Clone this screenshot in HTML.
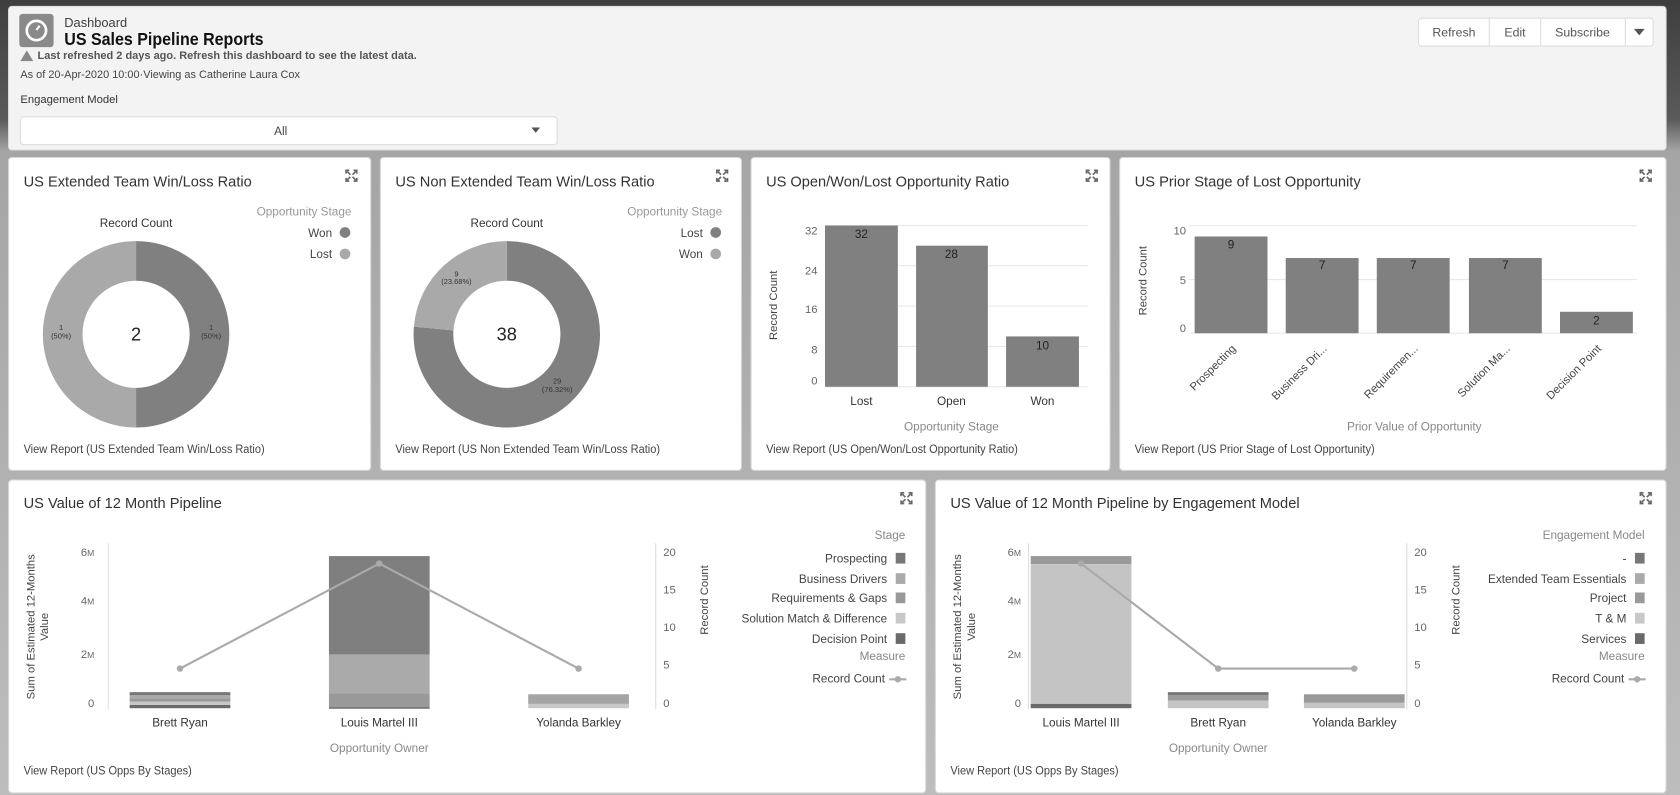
<!DOCTYPE html>
<html><head><meta charset="utf-8"><style>
html,body{margin:0;padding:0;width:1680px;height:795px;overflow:hidden;background:#b4b4b4}
svg{display:block}
text{font-family:"Liberation Sans",sans-serif}
</style></head><body>
<svg width="1680" height="795" viewBox="0 0 1568 742" preserveAspectRatio="none" xmlns="http://www.w3.org/2000/svg">
<defs>
<linearGradient id="bg" x1="0" y1="0" x2="0" y2="1">
<stop offset="0" stop-color="#3e3e3e"/><stop offset="0.15" stop-color="#5a5a5a"/><stop offset="0.19" stop-color="#a5a5a5"/><stop offset="1" stop-color="#bdbdbd"/>
</linearGradient>
<g id="exp" fill="none" stroke="#666" stroke-width="1.5"><path d="M0 3V0H3M7 0H10V3M10 7V10H7M3 10H0V7M1 1L4 4M9 1L6 4M9 9L6 6M1 9L4 6"/></g>
</defs>
<rect width="1568" height="742" fill="url(#bg)"/>
<!-- header -->
<rect x="8" y="6" width="1547" height="134" rx="3" fill="#f3f3f3" stroke="#ddd"/>
<rect x="18" y="13" width="32" height="31" rx="3" fill="#8a8a8a"/>
<circle cx="34" cy="28.5" r="9" fill="none" stroke="#fff" stroke-width="2.5"/>
<path d="M34 28 L37 24" stroke="#fff" stroke-width="2"/>
<text x="60" y="25" font-size="12" fill="#3e3e3e">Dashboard</text>
<text x="60" y="42" font-size="16" fill="#111" font-weight="bold" textLength="186" lengthAdjust="spacingAndGlyphs">US Sales Pipeline Reports</text>
<path d="M19 57 L25 47 L31 57Z" fill="#888"/>
<text x="35" y="55" font-size="10.5" fill="#555" font-weight="bold" textLength="354" lengthAdjust="spacingAndGlyphs">Last refreshed 2 days ago. Refresh this dashboard to see the latest data.</text>
<text x="19" y="73" font-size="10.5" fill="#444" textLength="261" lengthAdjust="spacingAndGlyphs">As of 20-Apr-2020 10:00·Viewing as Catherine Laura Cox</text>
<text x="19" y="96" font-size="10.5" fill="#333">Engagement Model</text>
<rect x="19" y="109" width="501" height="26" rx="3" fill="#fff" stroke="#ddd"/>
<text x="262" y="126" font-size="11" fill="#444" text-anchor="middle">All</text>
<path d="M496 119h8l-4 5z" fill="#555"/>
<rect x="1324" y="17" width="219" height="26" rx="3" fill="#fff" stroke="#ddd"/>
<path d="M1390 17v26M1438 17v26M1517 17v26" stroke="#ddd"/>
<text x="1357" y="34" font-size="11.5" fill="#555" text-anchor="middle">Refresh</text>
<text x="1414" y="34" font-size="11.5" fill="#555" text-anchor="middle">Edit</text>
<text x="1477" y="34" font-size="11.5" fill="#555" text-anchor="middle">Subscribe</text>
<path d="M1525 27h10l-5 6z" fill="#555"/>

<!-- panels -->
<g fill="#fff" stroke="#d6d6d6">
<rect x="8" y="147" width="338" height="292" rx="3"/>
<rect x="355" y="147" width="337" height="292" rx="3"/>
<rect x="701" y="147" width="335" height="292" rx="3"/>
<rect x="1045" y="147" width="510" height="292" rx="3"/>
<rect x="8" y="448" width="856" height="292" rx="3"/>
<rect x="873" y="448" width="682" height="292" rx="3"/>
</g>
<use href="#exp" x="323" y="159"/><use href="#exp" x="669" y="159"/><use href="#exp" x="1014" y="159"/><use href="#exp" x="1531" y="159"/>
<use href="#exp" x="841" y="460"/><use href="#exp" x="1531" y="460"/>

<g font-size="14" fill="#333">
<text x="22" y="174" textLength="213" lengthAdjust="spacingAndGlyphs">US Extended Team Win/Loss Ratio</text>
<text x="369" y="174" textLength="242" lengthAdjust="spacingAndGlyphs">US Non Extended Team Win/Loss Ratio</text>
<text x="715" y="174" textLength="227" lengthAdjust="spacingAndGlyphs">US Open/Won/Lost Opportunity Ratio</text>
<text x="1059" y="174" textLength="211" lengthAdjust="spacingAndGlyphs">US Prior Stage of Lost Opportunity</text>
<text x="22" y="474" textLength="185" lengthAdjust="spacingAndGlyphs">US Value of 12 Month Pipeline</text>
<text x="887" y="474" textLength="326" lengthAdjust="spacingAndGlyphs">US Value of 12 Month Pipeline by Engagement Model</text>
</g>
<g font-size="11" fill="#444">
<text x="22" y="423" textLength="225" lengthAdjust="spacingAndGlyphs">View Report (US Extended Team Win/Loss Ratio)</text>
<text x="369" y="423" textLength="247" lengthAdjust="spacingAndGlyphs">View Report (US Non Extended Team Win/Loss Ratio)</text>
<text x="715" y="423" textLength="235" lengthAdjust="spacingAndGlyphs">View Report (US Open/Won/Lost Opportunity Ratio)</text>
<text x="1059" y="423" textLength="224" lengthAdjust="spacingAndGlyphs">View Report (US Prior Stage of Lost Opportunity)</text>
<text x="22" y="723" textLength="157" lengthAdjust="spacingAndGlyphs">View Report (US Opps By Stages)</text>
<text x="887" y="723" textLength="157" lengthAdjust="spacingAndGlyphs">View Report (US Opps By Stages)</text>
</g>

<!-- P1 donut -->
<text x="127" y="212" font-size="11" fill="#333" text-anchor="middle">Record Count</text>
<path d="M127 225 A87 87 0 0 1 127 399 L127 362 A50 50 0 0 0 127 262Z" fill="#808080"/>
<path d="M127 225 A87 87 0 0 0 127 399 L127 362 A50 50 0 0 1 127 262Z" fill="#a9a9a9"/>
<text x="127" y="318" font-size="17" fill="#222" text-anchor="middle">2</text>
<g font-size="7" fill="#333" text-anchor="middle"><text x="197" y="308">1</text><text x="197" y="316">(50%)</text><text x="57" y="308">1</text><text x="57" y="316">(50%)</text></g>
<text x="328" y="201" font-size="11" fill="#999" text-anchor="end">Opportunity Stage</text>
<text x="310" y="221" font-size="11" fill="#444" text-anchor="end">Won</text><circle cx="322" cy="217" r="5" fill="#808080"/>
<text x="310" y="241" font-size="11" fill="#444" text-anchor="end">Lost</text><circle cx="322" cy="237" r="5" fill="#a9a9a9"/>

<!-- P2 donut -->
<text x="473" y="212" font-size="11" fill="#333" text-anchor="middle">Record Count</text>
<path d="M473 225 A87 87 0 1 1 386.3 304.9 L423.2 308.4 A50 50 0 1 0 473 262Z" fill="#808080"/>
<path d="M473 225 A87 87 0 0 0 386.3 304.9 L423.2 308.4 A50 50 0 0 1 473 262Z" fill="#a9a9a9"/>
<text x="473" y="318" font-size="17" fill="#222" text-anchor="middle">38</text>
<g font-size="7" fill="#333" text-anchor="middle"><text x="426" y="258">9</text><text x="426" y="265">(23.68%)</text><text x="520" y="358">29</text><text x="520" y="366">(76.32%)</text></g>
<text x="674" y="201" font-size="11" fill="#999" text-anchor="end">Opportunity Stage</text>
<text x="656" y="221" font-size="11" fill="#444" text-anchor="end">Lost</text><circle cx="668" cy="217" r="5" fill="#808080"/>
<text x="656" y="241" font-size="11" fill="#444" text-anchor="end">Won</text><circle cx="668" cy="237" r="5" fill="#a9a9a9"/>

<!-- P3 bars -->
<g stroke="#e8e8e8"><path d="M770 210.5H1015M770 248H1015M770 285.7H1015M770 323.3H1015M770 361H1015"/></g>
<g font-size="10.5" fill="#666" text-anchor="end"><text x="763" y="219">32</text><text x="763" y="256">24</text><text x="763" y="292">16</text><text x="763" y="330">8</text><text x="763" y="359">0</text></g>
<g fill="#808080"><rect x="770" y="210.5" width="68" height="150.5"/><rect x="855" y="229.3" width="67" height="131.7"/><rect x="939" y="314" width="68" height="47"/></g>
<g font-size="11" fill="#222" text-anchor="middle"><text x="804" y="222">32</text><text x="888" y="241">28</text><text x="973" y="326">10</text></g>
<g font-size="11" fill="#333" text-anchor="middle"><text x="804" y="378">Lost</text><text x="888" y="378">Open</text><text x="973" y="378">Won</text></g>
<text x="888" y="402" font-size="11" fill="#888" text-anchor="middle">Opportunity Stage</text>
<text transform="translate(725 285) rotate(-90)" font-size="10.5" fill="#444" text-anchor="middle">Record Count</text>

<!-- P4 bars -->
<g stroke="#e8e8e8"><path d="M1110 210.7H1528M1110 260.9H1528M1110 311H1528"/></g>
<g font-size="10.5" fill="#666" text-anchor="end"><text x="1107" y="219">10</text><text x="1107" y="265">5</text><text x="1107" y="310">0</text></g>
<g fill="#808080"><rect x="1115" y="220.7" width="68" height="90.3"/><rect x="1200" y="240.8" width="68" height="70.2"/><rect x="1285" y="240.8" width="68" height="70.2"/><rect x="1371" y="240.8" width="68" height="70.2"/><rect x="1456" y="291" width="68" height="20"/></g>
<g font-size="11" fill="#222" text-anchor="middle"><text x="1149" y="232">9</text><text x="1234" y="251">7</text><text x="1319" y="251">7</text><text x="1405" y="251">7</text><text x="1490" y="303">2</text></g>
<g font-size="10.5" fill="#444" text-anchor="end">
<text transform="translate(1154 326) rotate(-45)">Prospecting</text>
<text transform="translate(1239 326) rotate(-45)">Business Dri...</text>
<text transform="translate(1324 326) rotate(-45)">Requiremen...</text>
<text transform="translate(1410 326) rotate(-45)">Solution Ma...</text>
<text transform="translate(1495 326) rotate(-45)">Decision Point</text>
</g>
<text x="1320" y="402" font-size="11" fill="#888" text-anchor="middle">Prior Value of Opportunity</text>
<text transform="translate(1070 262) rotate(-90)" font-size="10.5" fill="#444" text-anchor="middle">Record Count</text>

<!-- P5 -->
<path d="M101 507V662M612 507V662" stroke="#ddd"/>
<g font-size="10.5" fill="#666" text-anchor="end"><text x="88" y="519">6<tspan font-size="8">M</tspan></text><text x="88" y="564">4<tspan font-size="8">M</tspan></text><text x="88" y="614">2<tspan font-size="8">M</tspan></text><text x="88" y="660">0</text></g>
<g font-size="10.5" fill="#666"><text x="619" y="519">20</text><text x="619" y="554">15</text><text x="619" y="589">10</text><text x="619" y="624">5</text><text x="619" y="660">0</text></g>
<rect x="307" y="519" width="94" height="92" fill="#7f7f7f"/>
<rect x="307" y="611" width="94" height="36" fill="#aaaaaa"/>
<rect x="307" y="647" width="94" height="13" fill="#999"/>
<rect x="307" y="660" width="94" height="1.5" fill="#6a6a6a"/>
<rect x="121" y="646" width="94" height="3" fill="#777"/><rect x="121" y="649" width="94" height="3" fill="#aaa"/><rect x="121" y="652" width="94" height="3" fill="#999"/><rect x="121" y="655" width="94" height="3" fill="#c8c8c8"/><rect x="121" y="658" width="94" height="3" fill="#6a6a6a"/>
<rect x="493" y="648" width="94" height="9" fill="#a5a5a5"/><rect x="493" y="657" width="94" height="4" fill="#c8c8c8"/>
<polyline points="168,624 354,526 540,624" fill="none" stroke="#aaa" stroke-width="2"/>
<g fill="#aaa"><circle cx="168" cy="624" r="3"/><circle cx="354" cy="526" r="3"/><circle cx="540" cy="624" r="3"/></g>
<g font-size="11" fill="#333" text-anchor="middle"><text x="168" y="678">Brett Ryan</text><text x="354" y="678">Louis Martel III</text><text x="540" y="678">Yolanda Barkley</text></g>
<text x="354" y="702" font-size="11" fill="#888" text-anchor="middle">Opportunity Owner</text>
<g font-size="10.5" fill="#444" text-anchor="middle"><text transform="translate(32 585) rotate(-90)">Sum of Estimated 12-Months</text><text transform="translate(45 585) rotate(-90)">Value</text><text transform="translate(661 560) rotate(-90)">Record Count</text></g>
<g font-size="11" fill="#444" text-anchor="end">
<text x="845" y="503" fill="#888">Stage</text>
<text x="828" y="525">Prospecting</text><rect x="836" y="516" width="9" height="10" fill="#777"/>
<text x="828" y="544">Business Drivers</text><rect x="836" y="535" width="9" height="10" fill="#aaa"/>
<text x="828" y="562">Requirements &amp; Gaps</text><rect x="836" y="553" width="9" height="10" fill="#999"/>
<text x="828" y="581">Solution Match &amp; Difference</text><rect x="836" y="572" width="9" height="10" fill="#c8c8c8"/>
<text x="828" y="600">Decision Point</text><rect x="836" y="591" width="9" height="10" fill="#6a6a6a"/>
<text x="845" y="616" fill="#888">Measure</text>
<text x="826" y="637">Record Count</text><path d="M830 634H846" stroke="#aaa" stroke-width="2"/><circle cx="838" cy="634" r="3" fill="#aaa"/>
</g>

<!-- P6 -->
<path d="M960 507V662M1313 507V662" stroke="#ddd"/>
<g font-size="10.5" fill="#666" text-anchor="end"><text x="953" y="519">6<tspan font-size="8">M</tspan></text><text x="953" y="564">4<tspan font-size="8">M</tspan></text><text x="953" y="614">2<tspan font-size="8">M</tspan></text><text x="953" y="660">0</text></g>
<g font-size="10.5" fill="#666"><text x="1320" y="519">20</text><text x="1320" y="554">15</text><text x="1320" y="589">10</text><text x="1320" y="624">5</text><text x="1320" y="660">0</text></g>
<rect x="962" y="519" width="94" height="7.5" fill="#999"/>
<rect x="962" y="526.5" width="94" height="130.5" fill="#c4c4c4"/>
<rect x="962" y="657" width="94" height="4" fill="#6a6a6a"/>
<rect x="1090" y="646" width="94" height="3" fill="#777"/><rect x="1090" y="649" width="94" height="5" fill="#999"/><rect x="1090" y="654" width="94" height="7" fill="#c4c4c4"/>
<rect x="1217" y="648" width="94" height="8" fill="#999"/><rect x="1217" y="656" width="94" height="5" fill="#c4c4c4"/>
<polyline points="1009,526 1137,624 1264,624" fill="none" stroke="#aaa" stroke-width="2"/>
<g fill="#aaa"><circle cx="1009" cy="526" r="3"/><circle cx="1137" cy="624" r="3"/><circle cx="1264" cy="624" r="3"/></g>
<g font-size="11" fill="#333" text-anchor="middle"><text x="1009" y="678">Louis Martel III</text><text x="1137" y="678">Brett Ryan</text><text x="1264" y="678">Yolanda Barkley</text></g>
<text x="1137" y="702" font-size="11" fill="#888" text-anchor="middle">Opportunity Owner</text>
<g font-size="10.5" fill="#444" text-anchor="middle"><text transform="translate(897 585) rotate(-90)">Sum of Estimated 12-Months</text><text transform="translate(910 585) rotate(-90)">Value</text><text transform="translate(1362 560) rotate(-90)">Record Count</text></g>
<g font-size="11" fill="#444" text-anchor="end">
<text x="1535" y="503" fill="#888">Engagement Model</text>
<text x="1518" y="525">-</text><rect x="1526" y="516" width="9" height="10" fill="#777"/>
<text x="1518" y="544">Extended Team Essentials</text><rect x="1526" y="535" width="9" height="10" fill="#aaa"/>
<text x="1518" y="562">Project</text><rect x="1526" y="553" width="9" height="10" fill="#999"/>
<text x="1518" y="581">T &amp; M</text><rect x="1526" y="572" width="9" height="10" fill="#c8c8c8"/>
<text x="1518" y="600">Services</text><rect x="1526" y="591" width="9" height="10" fill="#6a6a6a"/>
<text x="1535" y="616" fill="#888">Measure</text>
<text x="1516" y="637">Record Count</text><path d="M1520 634H1536" stroke="#aaa" stroke-width="2"/><circle cx="1528" cy="634" r="3" fill="#aaa"/>
</g>
</svg>
</body></html>
